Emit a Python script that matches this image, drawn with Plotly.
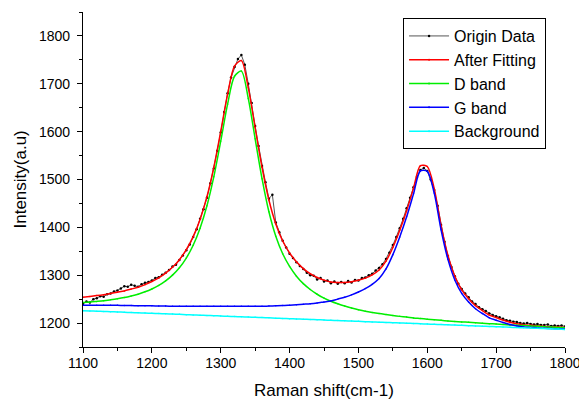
import plotly.graph_objects as go

# ---------------- data ----------------
# Raw spectrum (Origin Data), sampled every 5 cm-1 from 1100 to 1800
raw_shift = list(range(1100, 1801, 5))
raw_intensity = [
    1240, 1245, 1243, 1250, 1252, 1256, 1255, 1260, 1262, 1266,   # 1100-1145
    1268, 1272, 1277, 1276, 1280, 1278, 1276, 1281, 1284, 1286,   # 1150-1195
    1289, 1294, 1296, 1301, 1305, 1311, 1318, 1322, 1332, 1341,   # 1200-1245
    1352, 1364, 1380, 1396, 1418, 1438, 1462, 1492, 1523, 1560,   # 1250-1295
    1598, 1641, 1680, 1713, 1735, 1752, 1760, 1740, 1700, 1660,   # 1300-1345
    1612, 1570, 1528, 1494, 1460, 1468, 1410, 1390, 1372, 1358,   # 1350-1395
    1345, 1336, 1327, 1319, 1313, 1305, 1300, 1299, 1291, 1294,   # 1400-1445
    1287, 1289, 1283, 1287, 1282, 1286, 1283, 1288, 1285, 1290,   # 1450-1495
    1289, 1294, 1295, 1300, 1303, 1310, 1315, 1323, 1334, 1347,   # 1500-1545
    1363, 1380, 1398, 1418, 1440, 1462, 1484, 1505, 1520, 1524,   # 1550-1595
    1518, 1500, 1478, 1445, 1405, 1370, 1340, 1317, 1298, 1282,   # 1600-1645
    1271, 1262, 1254, 1245, 1240, 1233, 1229, 1225, 1220, 1217,   # 1650-1695
    1214, 1212, 1209, 1206, 1205, 1203, 1202, 1200, 1199, 1200,   # 1700-1745
    1198, 1197, 1198, 1196, 1196, 1197, 1194, 1195, 1194, 1195,   # 1750-1795
    1193,                                                         # 1800
]

# Fitted curves, sampled every 10 cm-1 from 1100 to 1800
fit_shift = list(range(1100, 1801, 10))
after_fitting = [
    1254.1, 1255.6, 1257.4, 1259.4, 1261.8, 1264.5, 1267.2, 1271.0, 1274.9, 1280.3,
    1286.9, 1294.4, 1304.4, 1316.5, 1332.5, 1353.3, 1380.6, 1416.6, 1464.1, 1525.5,
    1600.2, 1678.3, 1737.0, 1748.4, 1691.8, 1608.1, 1525.4, 1457.2, 1407.2, 1371.5,
    1346.6, 1327.9, 1313.8, 1303.1, 1295.2, 1289.8, 1285.8, 1284.9, 1284.8, 1286.3,
    1289.4, 1293.9, 1300.8, 1311.0, 1329.4, 1358.0, 1393.8, 1434.8, 1481.7, 1528.9,
    1527.1, 1481.4, 1403.8, 1341.2, 1297.7, 1269.3, 1250.9, 1236.5, 1226.1, 1216.8,
    1211.5, 1206.2, 1201.9, 1198.7, 1196.5, 1195.3, 1194.1, 1192.9, 1192.2, 1191.6,
    1190.9,
]
d_band = [
    1243.1, 1244.0, 1245.3, 1246.7, 1248.6, 1250.7, 1253.3, 1256.6, 1260.4, 1265.3,
    1271.3, 1278.7, 1288.2, 1300.2, 1315.7, 1335.9, 1362.6, 1398.1, 1445.0, 1505.9,
    1580.0, 1657.5, 1715.7, 1726.5, 1669.4, 1585.1, 1501.8, 1432.6, 1381.5, 1344.8,
    1318.3, 1298.0, 1282.4, 1270.1, 1260.2, 1252.2, 1245.6, 1240.2, 1235.5, 1231.5,
    1228.0, 1224.9, 1222.3, 1219.9, 1217.8, 1215.8, 1214.0, 1212.5, 1210.8, 1209.5,
    1208.1, 1206.8, 1205.7, 1204.5, 1203.5, 1202.5, 1201.5, 1200.6, 1199.6, 1198.8,
    1197.9, 1197.0, 1196.2, 1195.4, 1194.7, 1193.9, 1193.1, 1192.4, 1191.6, 1191.0,
    1190.2,
]
g_band = [
    1237, 1237, 1237, 1237, 1237, 1237, 1236.5, 1236.5, 1236, 1236,
    1236, 1235.5, 1235.5, 1235, 1235, 1235, 1235, 1235, 1235, 1235,
    1235, 1235, 1235, 1235, 1235, 1235, 1235, 1235.5, 1236, 1236.5,
    1237.5, 1238.5, 1239.5, 1240.5, 1242, 1244, 1246, 1250, 1254, 1259,
    1265, 1272, 1281, 1293, 1313, 1343, 1380, 1422, 1470, 1518,
    1517, 1472, 1395, 1333, 1290, 1262, 1244, 1230, 1220, 1211,
    1206, 1201, 1197, 1194, 1192, 1191, 1190, 1189, 1188.5, 1188,
    1187.5,
]
background = [
    1226.0, 1225.4, 1224.9, 1224.3, 1223.8, 1223.2, 1222.6, 1222.1, 1221.5, 1221.0,
    1220.4, 1219.8, 1219.3, 1218.7, 1218.2, 1217.6, 1217.0, 1216.5, 1215.9, 1215.4,
    1214.8, 1214.2, 1213.7, 1213.1, 1212.6, 1212.0, 1211.4, 1210.9, 1210.3, 1209.8,
    1209.2, 1208.6, 1208.1, 1207.5, 1207.0, 1206.4, 1205.8, 1205.3, 1204.7, 1204.2,
    1203.6, 1203.0, 1202.5, 1201.9, 1201.4, 1200.8, 1200.2, 1199.7, 1199.1, 1198.6,
    1198.0, 1197.4, 1196.9, 1196.3, 1195.8, 1195.2, 1194.6, 1194.1, 1193.5, 1193.0,
    1192.4, 1191.8, 1191.3, 1190.7, 1190.2, 1189.6, 1189.0, 1188.5, 1187.9, 1187.4,
    1186.8,
]

x_ticks = [1100, 1200, 1300, 1400, 1500, 1600, 1700, 1800]
y_ticks = [1200, 1300, 1400, 1500, 1600, 1700, 1800]
x_title = "Raman shift(cm-1)"
y_title = "Intensity(a.u)"

# ---------------- figure ----------------
FONT = "Arial, 'Liberation Sans', sans-serif"
fig = go.Figure()

fig.add_trace(go.Scatter(
    x=raw_shift, y=raw_intensity, name="Origin Data", mode="lines+markers",
    line=dict(color="#555555", width=1),
    marker=dict(color="black", size=2.5),
))

fits = [
    ("After Fitting", after_fitting, "#ff0000"),
    ("D band", d_band, "#00ee00"),
    ("G band", g_band, "#0000ff"),
    ("Background", background, "#00ffff"),
]
for name, ys, col in fits:
    fig.add_trace(go.Scatter(
        x=fit_shift, y=ys, name=name, mode="lines+markers",
        line=dict(color=col, width=1.5, shape="spline", smoothing=0.8),
        marker=dict(color=col, size=1.5),
    ))

axis_common = dict(
    showline=True, linecolor="black", linewidth=1.2,
    ticks="outside", ticklen=5, tickwidth=1, tickcolor="black",
    showgrid=False, zeroline=False, mirror=False, automargin=False,
    tickfont=dict(family=FONT, size=14, color="black"),
    minor=dict(ticks="outside", ticklen=3, tickwidth=1, tickcolor="black", dtick=50),
)

fig.update_xaxes(range=[1100, 1800], tickvals=x_ticks, ticklabelstandoff=-2, **axis_common)
fig.update_yaxes(range=[1150, 1850], tickvals=y_ticks, ticklabelstandoff=4, **axis_common)

# axis titles placed as annotations at fixed pixel offsets from the plot area
fig.add_annotation(
    text=x_title, xref="paper", yref="paper", x=0.5, y=0,
    xanchor="center", yanchor="middle", yshift=-43, showarrow=False,
    font=dict(family=FONT, size=17, color="black"),
)
fig.add_annotation(
    text=y_title, xref="paper", yref="paper", x=0, y=0.5,
    xanchor="center", yanchor="middle", xshift=-63, textangle=-90, showarrow=False,
    font=dict(family=FONT, size=17, color="black"),
)

# The page has an 8px body margin, so the figure is sized to fit inside the window
fig.update_layout(
    width=579, height=395,
    margin=dict(l=75, r=22, t=4, b=56),
    paper_bgcolor="white", plot_bgcolor="white",
    font=dict(family=FONT, color="black"),
    legend=dict(
        x=0.664, y=0.982, xanchor="left", yanchor="top",
        bgcolor="white", bordercolor="black", borderwidth=1,
        font=dict(family=FONT, size=16, color="black"),
        tracegroupgap=0, itemwidth=40,
    ),
    showlegend=True,
)

fig.write_html("out.html")
